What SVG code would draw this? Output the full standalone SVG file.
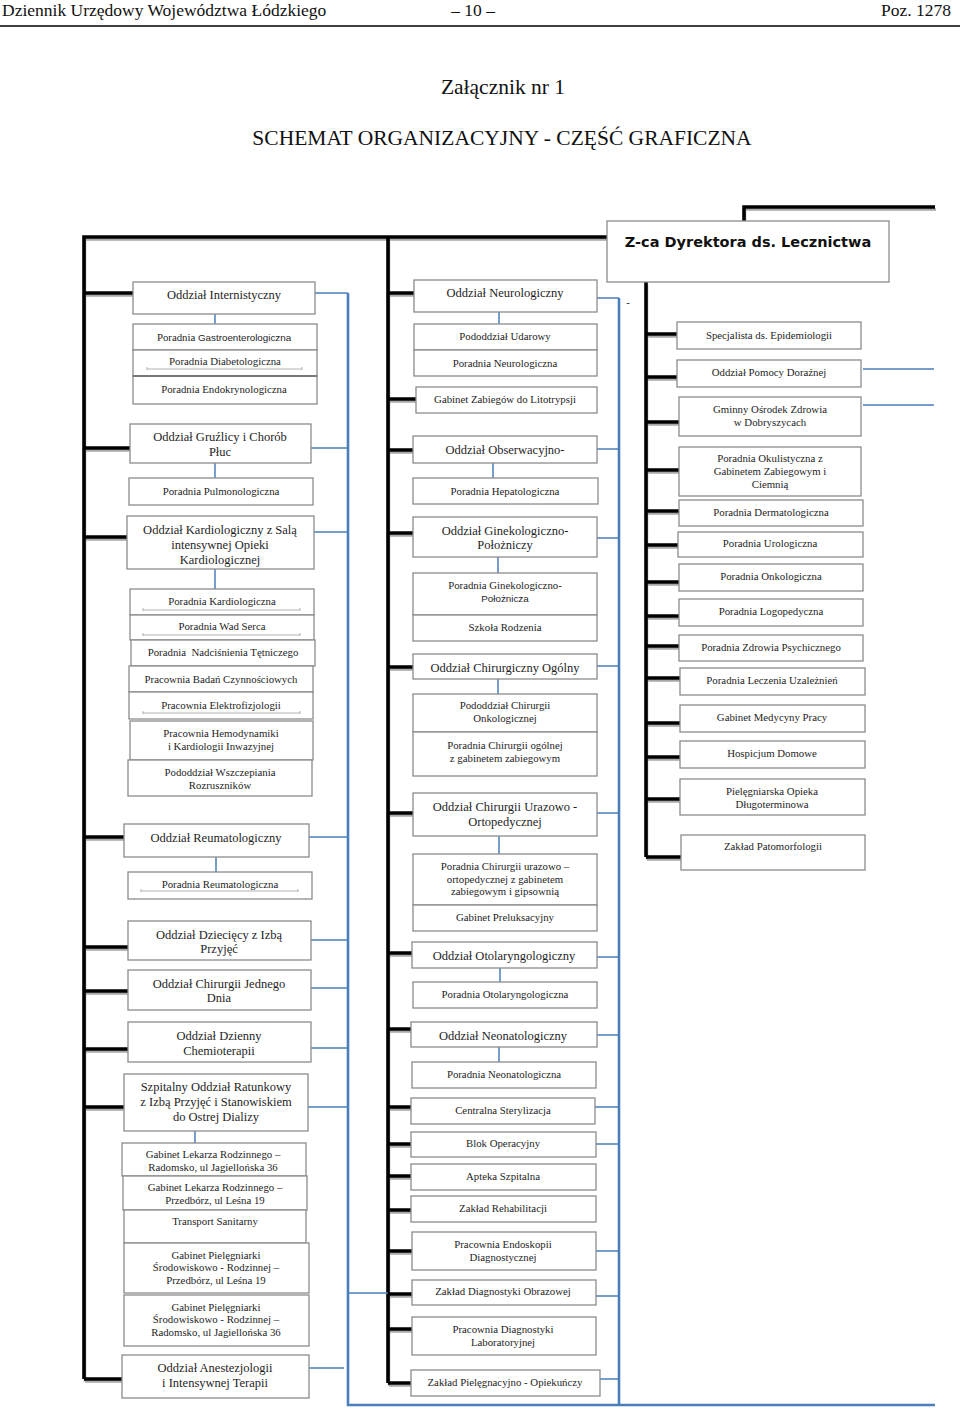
<svg xmlns="http://www.w3.org/2000/svg" xmlns:xlink="http://www.w3.org/1999/xlink" width="960" height="1411" viewBox="0 0 960 1411">
<style>
.b{fill:#fff;stroke:#8c8c8c;stroke-width:1.3}
.t{font-family:"Liberation Serif","Times New Roman",serif;font-size:10.8px;fill:#1e1e1e;text-anchor:middle}
.h{font-size:12.5px}
.sans{font-family:"Liberation Sans",Arial,sans-serif;font-size:9.8px}
.hd{font-family:"Liberation Serif","Times New Roman",serif;fill:#111}
.blu{fill:none;stroke:#4a7ebb;stroke-width:1.5}
.bluT{fill:none;stroke:#4a7ebb;stroke-width:2.6}
.tick{fill:none;stroke:#a0a0a0;stroke-width:0.8}
</style>
<rect width="960" height="1411" fill="#fff"/>
<g id="header">
<text class="hd" x="2" y="16" font-size="17.5">Dziennik Urzędowy Województwa Łódzkiego</text>
<text class="hd" x="473" y="16" font-size="17.5" text-anchor="middle">– 10 –</text>
<text class="hd" x="951" y="16" font-size="17.5" text-anchor="end">Poz. 1278</text>
<line x1="0" y1="26" x2="960" y2="26" stroke="#000" stroke-width="1.5"/>
<text class="hd" x="503" y="94" font-size="21.5" text-anchor="middle">Załącznik nr 1</text>
<text class="hd" x="502" y="145" font-size="21.5" text-anchor="middle">SCHEMAT ORGANIZACYJNY - CZĘŚĆ GRAFICZNA</text>
</g>
<g id="connectors">
<defs>
<path id="blk" d="M84,1379V237H607M744,221V207H935M388,237V1383M646,282V857
M84,293H133M84,448H130M84,537H127M84,837H124M84,947H128M84,991H128M84,1049H128M84,1107H124M84,1379H122
M388,293H414M388,399H416M388,450H413M388,533H413M388,667H413M388,813H413M388,953H412M388,1029H411M388,1107H411M388,1144H411M388,1176H411M388,1210H411M388,1251H412M388,1294H412M388,1329H412M388,1383H411
M646,334H677M646,377H677M646,422H679M646,470H679M646,511H679M646,545H678M646,582H679M646,616H679M646,646H679M646,678H680M646,723H680M646,757H680M646,799H680M646,857H681"/>
</defs>
<use xlink:href="#blk" href="#blk" stroke="#a8a8a8" stroke-width="2.5" fill="none" transform="translate(1,2.5)"/>
<use xlink:href="#blk" href="#blk" stroke="#000" stroke-width="3.6" fill="none"/>
<path class="bluT" d="M348,293V1405H935M619,298V1405"/>
<path class="blu" d="M315,293H348M311,448H348M314,532H348M309,837H348M311,940H348M311,988H348M311,1048H348M308,1107H348M309,1368H344M348,1293H388
M215,314V324M215,463V478M215,569V589M216,857V872M195,1131V1143
M597,298H619M597,449H619M597,538H619M597,666H619M597,813H619M597,957H619M597,1035H619M592,1107H619M596,1144H619M596,1251H619M596,1296H619M600,1379H619
M499,312V324M493,463V478M498,557V573M498,679V694M499,836V854M500,968V982M499,1047V1062
M863,369H934M863,405H934"/>
</g>
<g id="zca">
<rect class="b" x="607" y="221" width="282" height="61"/>
<text x="748" y="247" font-family="'DejaVu Sans',Verdana,sans-serif" font-weight="bold" font-size="14.5" text-anchor="middle" fill="#111">Z-ca Dyrektora ds. Lecznictwa</text>
</g>
<text class="t" x="628" y="306">-</text>
<!-- LEFT COLUMN -->
<g id="l01"><rect class="b" x="133" y="282" width="182" height="32"/><text class="t h" x="224" y="298.5">Oddział Internistyczny</text></g>
<g id="l02"><rect class="b" x="133" y="324" width="184" height="26"/><text class="t" x="224" y="341">Poradnia <tspan class="sans">Gastroenterologiczna</tspan></text></g>
<g id="l03"><rect class="b" x="133" y="350" width="184" height="26"/><text class="t" x="225" y="365">Poradnia Diabetologiczna</text></g>
<g id="l04"><rect class="b" x="133" y="376" width="184" height="28"/><line x1="133" y1="376" x2="317" y2="376" stroke="#777" stroke-width="2"/><text class="t" x="224" y="393">Poradnia Endokrynologiczna</text></g>
<g id="l05"><rect class="b" x="130" y="424" width="181" height="39"/><text class="t h" x="220" y="440.5">Oddział Gruźlicy i Chorób</text><text class="t h" x="220" y="455.5">Płuc</text></g>
<g id="l06"><rect class="b" x="129" y="478" width="184" height="27"/><text class="t" x="221" y="495">Poradnia Pulmonologiczna</text></g>
<g id="l07"><rect class="b" x="127" y="516" width="187" height="53"/><text class="t h" x="220" y="533.5">Oddział Kardiologiczny z Salą</text><text class="t h" x="220" y="548.5">intensywnej Opieki</text><text class="t h" x="220" y="563.5">Kardiologicznej</text></g>
<g id="l08"><rect class="b" x="130" y="589" width="184" height="26"/><text class="t" x="222" y="605">Poradnia Kardiologiczna</text></g>
<g id="l09"><rect class="b" x="130" y="615" width="184" height="25"/><text class="t" x="222" y="630">Poradnia Wad Serca</text></g>
<g id="l10"><rect class="b" x="131" y="640" width="184" height="26"/><text class="t" x="223" y="656" xml:space="preserve">Poradnia  Nadciśnienia Tętniczego</text></g>
<g id="l11"><rect class="b" x="129" y="666" width="184" height="26"/><text class="t" x="221" y="683">Pracownia Badań Czynnościowych</text></g>
<g id="l12"><rect class="b" x="129" y="692" width="184" height="27"/><text class="t" x="221" y="709">Pracownia Elektrofizjologii</text></g>
<g id="l13"><rect class="b" x="130" y="721" width="183" height="39"/><text class="t" x="221" y="737">Pracownia Hemodynamiki</text><text class="t" x="221" y="750">i Kardiologii Inwazyjnej</text></g>
<g id="l14"><rect class="b" x="128" y="760" width="184" height="36"/><text class="t" x="220" y="776">Pododdział Wszczepiania</text><text class="t" x="220" y="789">Rozruszników</text></g>
<g id="l15"><rect class="b" x="124" y="824" width="185" height="33"/><text class="t h" x="216" y="841.5">Oddział Reumatologiczny</text></g>
<g id="l16"><rect class="b" x="128" y="872" width="184" height="27"/><text class="t" x="220" y="888">Poradnia Reumatologiczna</text></g>
<g id="l17"><rect class="b" x="128" y="921" width="183" height="39"/><text class="t h" x="219" y="938.5">Oddział Dziecięcy z Izbą</text><text class="t h" x="219" y="952.5">Przyjęć</text></g>
<g id="l18"><rect class="b" x="128" y="970" width="183" height="40"/><text class="t h" x="219" y="987.5">Oddział Chirurgii Jednego</text><text class="t h" x="219" y="1001.5">Dnia</text></g>
<g id="l19"><rect class="b" x="128" y="1022" width="183" height="40"/><text class="t h" x="219" y="1039.5">Oddział Dzienny</text><text class="t h" x="219" y="1054.5">Chemioterapii</text></g>
<g id="l20"><rect class="b" x="124" y="1074" width="184" height="57"/><text class="t h" x="216" y="1090.5">Szpitalny Oddział Ratunkowy</text><text class="t h" x="216" y="1105.5">z Izbą Przyjęć i Stanowiskiem</text><text class="t h" x="216" y="1120.5">do Ostrej Dializy</text></g>
<g id="l21"><rect class="b" x="122" y="1143" width="184" height="33"/><text class="t" x="213" y="1158">Gabinet Lekarza Rodzinnego –</text><text class="t" x="213" y="1171">Radomsko, ul Jagiellońska 36</text></g>
<g id="l22"><rect class="b" x="123" y="1176" width="184" height="34"/><text class="t" x="215" y="1191">Gabinet Lekarza Rodzinnego –</text><text class="t" x="215" y="1204">Przedbórz, ul Leśna 19</text></g>
<g id="l23"><rect class="b" x="124" y="1210" width="182" height="33"/><text class="t" x="215" y="1225">Transport Sanitarny</text></g>
<g id="l24"><rect class="b" x="124" y="1243" width="185" height="50"/><text class="t" x="216" y="1259">Gabinet Pielęgniarki</text><text class="t" x="216" y="1271">Środowiskowo - Rodzinnej  –</text><text class="t" x="216" y="1284">Przedbórz, ul Leśna 19</text></g>
<g id="l25"><rect class="b" x="124" y="1295" width="185" height="51"/><text class="t" x="216" y="1311">Gabinet Pielęgniarki</text><text class="t" x="216" y="1323">Środowiskowo - Rodzinnej  –</text><text class="t" x="216" y="1336">Radomsko, ul Jagiellońska 36</text></g>
<g id="l26"><rect class="b" x="122" y="1355" width="187" height="43"/><text class="t h" x="215" y="1371.5">Oddział Anestezjologii</text><text class="t h" x="215" y="1386.5">i Intensywnej Terapii</text></g>
<!-- MIDDLE COLUMN -->
<g id="m01"><rect class="b" x="414" y="280" width="183" height="32"/><text class="t h" x="505" y="297">Oddział Neurologiczny</text></g>
<g id="m02"><rect class="b" x="414" y="324" width="183" height="26"/><text class="t" x="505" y="340">Pododdział Udarowy</text></g>
<g id="m03"><rect class="b" x="414" y="350" width="183" height="26"/><text class="t" x="505" y="367">Poradnia Neurologiczna</text></g>
<g id="m04"><rect class="b" x="416" y="387" width="181" height="26"/><text class="t" x="505" y="403">Gabinet Zabiegów do Litotrypsji</text></g>
<g id="m05"><rect class="b" x="413" y="436" width="184" height="27"/><text class="t h" x="505" y="453.5">Oddział Obserwacyjno-</text></g>
<g id="m06"><rect class="b" x="413" y="478" width="185" height="26"/><text class="t" x="505" y="495">Poradnia Hepatologiczna</text></g>
<g id="m07"><rect class="b" x="413" y="517" width="184" height="40"/><text class="t h" x="505" y="534.5">Oddział Ginekologiczno-</text><text class="t h" x="505" y="548.5">Położniczy</text></g>
<g id="m08"><rect class="b" x="413" y="573" width="184" height="42"/><text class="t" x="505" y="589">Poradnia Ginekologiczno-</text><text class="t sans" x="505" y="601.5">Położnicza</text></g>
<g id="m09"><rect class="b" x="413" y="615" width="184" height="26"/><text class="t" x="505" y="631">Szkoła Rodzenia</text></g>
<g id="m10"><rect class="b" x="413" y="654" width="184" height="25"/><text class="t h" x="505" y="671.5">Oddział Chirurgiczny Ogólny</text></g>
<g id="m11"><rect class="b" x="413" y="694" width="184" height="38"/><text class="t" x="505" y="709">Pododdział Chirurgii</text><text class="t" x="505" y="722">Onkologicznej</text></g>
<g id="m12"><rect class="b" x="413" y="732" width="184" height="44"/><text class="t" x="505" y="749">Poradnia Chirurgii ogólnej</text><text class="t" x="505" y="762">z gabinetem zabiegowym</text></g>
<g id="m13"><rect class="b" x="413" y="793" width="184" height="43"/><text class="t h" x="505" y="810.5">Oddział Chirurgii Urazowo -</text><text class="t h" x="505" y="825.5">Ortopedycznej</text></g>
<g id="m14"><rect class="b" x="413" y="854" width="184" height="51"/><text class="t" x="505" y="870">Poradnia Chirurgii urazowo –</text><text class="t" x="505" y="883">ortopedycznej z gabinetem</text><text class="t" x="505" y="895">zabiegowym i gipsownią</text></g>
<g id="m15"><rect class="b" x="413" y="905" width="184" height="26"/><text class="t" x="505" y="921">Gabinet Preluksacyjny</text></g>
<g id="m16"><rect class="b" x="412" y="942" width="185" height="26"/><text class="t h" x="504" y="959.5">Oddział Otolaryngologiczny</text></g>
<g id="m17"><rect class="b" x="413" y="982" width="184" height="26"/><text class="t" x="505" y="998">Poradnia Otolaryngologiczna</text></g>
<g id="m18"><rect class="b" x="411" y="1022" width="186" height="25"/><text class="t h" x="503" y="1039.5">Oddział Neonatologiczny</text></g>
<g id="m19"><rect class="b" x="412" y="1062" width="184" height="26"/><text class="t" x="504" y="1078">Poradnia Neonatologiczna</text></g>
<g id="m20"><rect class="b" x="411" y="1098" width="184" height="26"/><text class="t" x="503" y="1114">Centralna Sterylizacja</text></g>
<g id="m21"><rect class="b" x="411" y="1132" width="185" height="25"/><text class="t" x="503" y="1147">Blok Operacyjny</text></g>
<g id="m22"><rect class="b" x="411" y="1164" width="185" height="26"/><text class="t" x="503" y="1180">Apteka Szpitalna</text></g>
<g id="m23"><rect class="b" x="411" y="1196" width="185" height="26"/><text class="t" x="503" y="1212">Zakład Rehabilitacji</text></g>
<g id="m24"><rect class="b" x="412" y="1232" width="184" height="38"/><text class="t" x="503" y="1248">Pracownia Endoskopii</text><text class="t" x="503" y="1261">Diagnostycznej</text></g>
<g id="m25"><rect class="b" x="412" y="1280" width="184" height="25"/><text class="t" x="503" y="1295">Zakład Diagnostyki Obrazowej</text></g>
<g id="m26"><rect class="b" x="412" y="1317" width="184" height="38"/><text class="t" x="503" y="1333">Pracownia Diagnostyki</text><text class="t" x="503" y="1346">Laboratoryjnej</text></g>
<g id="m27"><rect class="b" x="411" y="1370" width="189" height="26"/><text class="t" x="505" y="1386">Zakład Pielęgnacyjno - Opiekuńczy</text></g>
<!-- RIGHT COLUMN -->
<g id="r01"><rect class="b" x="677" y="322" width="184" height="27"/><text class="t" x="769" y="339">Specjalista ds. Epidemiologii</text></g>
<g id="r02"><rect class="b" x="677" y="360" width="184" height="27"/><text class="t" x="769" y="376">Oddział Pomocy Doraźnej</text></g>
<g id="r03"><rect class="b" x="679" y="397" width="182" height="39"/><text class="t" x="770" y="413">Gminny Ośrodek Zdrowia</text><text class="t" x="770" y="426">w Dobryszycach</text></g>
<g id="r04"><rect class="b" x="679" y="447" width="182" height="49"/><text class="t" x="770" y="462">Poradnia Okulistyczna z</text><text class="t" x="770" y="475">Gabinetem Zabiegowym i</text><text class="t" x="770" y="488">Ciemnią</text></g>
<g id="r05"><rect class="b" x="679" y="500" width="184" height="26"/><text class="t" x="771" y="516">Poradnia Dermatologiczna</text></g>
<g id="r06"><rect class="b" x="678" y="532" width="185" height="25"/><text class="t" x="770" y="547">Poradnia Urologiczna</text></g>
<g id="r07"><rect class="b" x="679" y="564" width="184" height="27"/><text class="t" x="771" y="580">Poradnia Onkologiczna</text></g>
<g id="r08"><rect class="b" x="679" y="599" width="184" height="27"/><text class="t" x="771" y="615">Poradnia Logopedyczna</text></g>
<g id="r09"><rect class="b" x="679" y="635" width="184" height="26"/><text class="t" x="771" y="651">Poradnia Zdrowia Psychicznego</text></g>
<g id="r10"><rect class="b" x="680" y="668" width="185" height="27"/><text class="t" x="772" y="684">Poradnia Leczenia Uzależnień</text></g>
<g id="r11"><rect class="b" x="680" y="705" width="185" height="27"/><text class="t" x="772" y="721">Gabinet Medycyny Pracy</text></g>
<g id="r12"><rect class="b" x="680" y="741" width="185" height="27"/><text class="t" x="772" y="757">Hospicjum Domowe</text></g>
<g id="r13"><rect class="b" x="680" y="779" width="185" height="36"/><text class="t" x="772" y="795">Pielęgniarska Opieka</text><text class="t" x="772" y="808">Długoterminowa</text></g>
<g id="r14"><rect class="b" x="681" y="835" width="184" height="35"/><text class="t" x="773" y="850">Zakład Patomorfologii</text></g>
<g id="ticks">
<path class="tick" d="M147,369H302M147,367V370M302,367V370M143,610H300M143,608V611M300,608V611M143,635H300M143,633V636M300,633V636M143,713H300M143,711V714M300,711V714M141,891H298M141,889V892M298,889V892"/>
</g>
</svg>
